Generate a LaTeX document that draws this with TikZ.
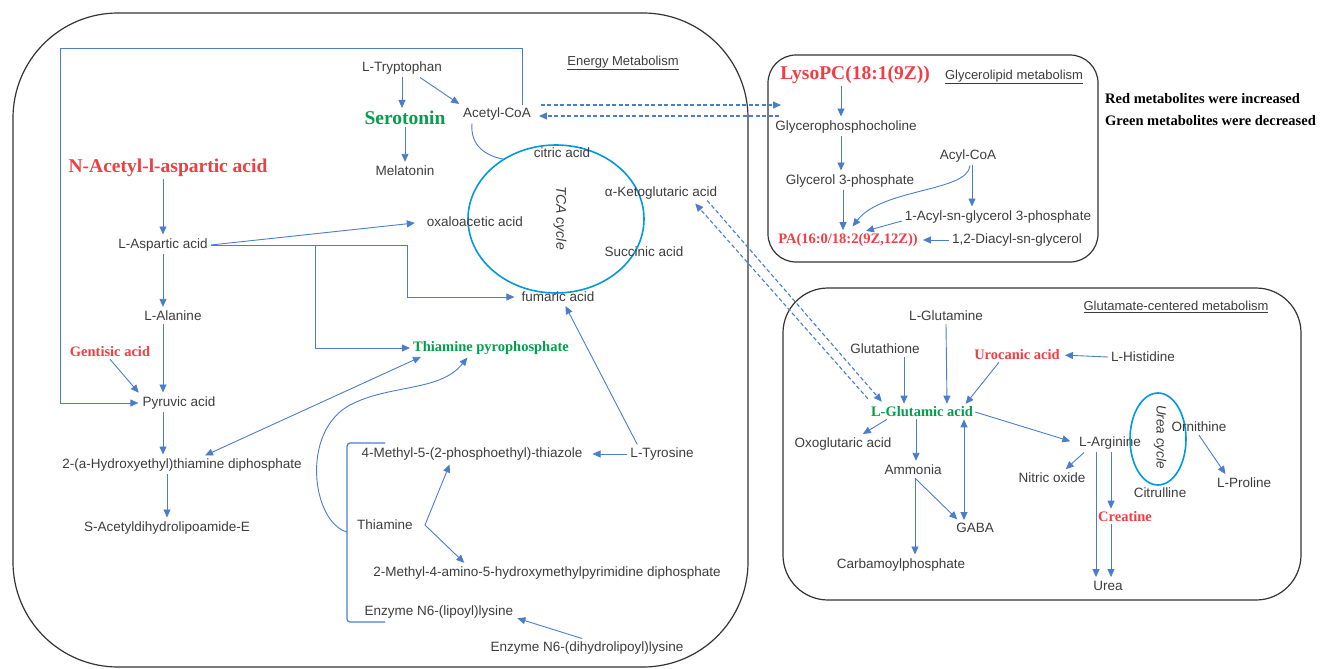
\documentclass[tikz,border=0pt]{standalone}
\usepackage{fontspec}
\setmainfont{Liberation Sans}
\newfontfamily\tnr{Liberation Serif}
\usetikzlibrary{arrows.meta,shapes.geometric}
\definecolor{incred}{RGB}{240,62,66}
\definecolor{decgreen}{RGB}{0,160,75}
\definecolor{lnblue}{RGB}{74,126,204}
\definecolor{cycblue}{RGB}{0,152,222}
\definecolor{txtgray}{RGB}{60,60,60}

\begin{document}
\begin{tikzpicture}[>={Triangle[length=8pt,width=7pt]},x=1pt,y=-1pt,
	txt/.style={font=\fontsize{13.5}{16}\selectfont,text=txtgray,inner sep=3pt},
	head/.style={font=\fontsize{13}{15}\selectfont,text=txtgray,inner sep=2pt},
	incbig/.style={font=\tnr\bfseries\fontsize{19.5}{22}\selectfont,text=incred,inner sep=2pt},
	decbig/.style={font=\tnr\bfseries\fontsize{19.5}{22}\selectfont,text=decgreen,inner sep=2pt},
	inc/.style={font=\tnr\bfseries\fontsize{14.5}{17}\selectfont,text=incred,inner sep=2pt},
	dec/.style={font=\tnr\bfseries\fontsize{14.5}{17}\selectfont,text=decgreen,inner sep=2pt},
	leg/.style={font=\tnr\bfseries\fontsize{14.5}{17}\selectfont,anchor=west,inner sep=0pt},
	cyc/.style={ellipse,draw=cycblue,line width=1.6pt,inner sep=0pt,outer sep=0pt},
	cyclbl/.style={font=\itshape\fontsize{14}{16}\selectfont,text=txtgray,rotate=-90},
	frame/.style={draw=black!80,line width=1.2pt},
	ln/.style={draw=lnblue,line width=0.9pt},
	arr/.style={->,draw=lnblue,line width=0.9pt,shorten >=1pt},
	dbl/.style={<->,draw=lnblue,line width=0.9pt},
	dsh/.style={->,draw=lnblue,line width=1.1pt,dash pattern=on 4pt off 2.5pt},
	brk/.style={draw=lnblue,line width=1.2pt,rounded corners=3pt}]
	  \useasboundingbox (0,0) rectangle (1328,669);
	  \draw[frame,rounded corners=105pt] (13,13) rectangle (748,667);
	  \draw[frame,rounded corners=28pt] (768,55) rectangle (1098,262);
	  \draw[frame,rounded corners=45pt] (783,288) rectangle (1301,600);

	  \node[head] (energy) at (623,63) {\underline{Energy Metabolism}};
	  \node[txt] (trp) at (402,68) {L-Tryptophan};
	  \node[decbig] (sero) at (405,118) {Serotonin};
	  \node[txt] (mela) at (405,171) {Melatonin};
	  \node[txt] (acoa) at (497,114) {Acetyl-CoA};
	  \node[incbig] (naa) at (168,168) {N-Acetyl-l-aspartic acid};
	  \node[txt] (asp) at (163,245) {L-Aspartic acid};
	  \node[cyc,minimum width=176pt,minimum height=148pt] (tca) at (556,219) {};
	  \node[cyclbl] (tcalbl) at (560,218) {TCA cycle};
	  \node[txt] (cit) at (562,153) {citric acid};
	  \node[txt] (oxa) at (475,222) {oxaloacetic acid};
	  \node[txt] (akg) at (661,193) {α-Ketoglutaric acid};
	  \node[txt] (suc) at (644,252) {Succinic acid};
	  \node[txt] (fum) at (558,297) {fumaric acid};
	  \node[txt] (ala) at (173,316) {L-Alanine};
	  \node[inc] (gen) at (110,352) {Gentisic acid};
	  \node[txt] (pyr) at (179,403) {Pyruvic acid};
	  \node[txt] (het) at (182,465) {2-(a-Hydroxyethyl)thiamine diphosphate};
	  \node[txt] (sac) at (167,528) {S-Acetyldihydrolipoamide-E};
	  \node[dec] (tpp) at (491,348) {Thiamine pyrophosphate};
	  \node[txt] (mpt) at (472,454) {4-Methyl-5-(2-phosphoethyl)-thiazole};
	  \node[txt] (tyr) at (662,454) {L-Tyrosine};
	  \node[txt] (thi) at (385,525) {Thiamine};
	  \node[txt] (hmp) at (547,573) {2-Methyl-4-amino-5-hydroxymethylpyrimidine diphosphate};
	  \node[txt] (lip) at (439,612) {Enzyme N6-(lipoyl)lysine};
	  \node[txt] (dhl) at (587,648) {Enzyme N6-(dihydrolipoyl)lysine};

	  \node[incbig] (lyso) at (855,75) {LysoPC(18:1(9Z))};
	  \node[head] (glhead) at (1014,77) {\underline{Glycerolipid metabolism}};
	  \node[txt] (gpc) at (846,127) {Glycerophosphocholine};
	  \node[txt] (acyl) at (968,156) {Acyl-CoA};
	  \node[txt] (g3p) at (850,181) {Glycerol 3-phosphate};
	  \node[txt] (ag3p) at (998,217) {1-Acyl-sn-glycerol 3-phosphate};
	  \node[inc] (pa) at (848,240) {PA(16:0/18:2(9Z,12Z))};
	  \node[txt] (dag) at (1017,240) {1,2-Diacyl-sn-glycerol};
	  \node[leg] (leg1) at (1105,99) {Red metabolites were increased};
	  \node[leg] (leg2) at (1105,121) {Green metabolites were decreased};

	  \node[head] (gchead) at (1176,307) {\underline{Glutamate-centered metabolism}};
	  \node[txt] (gln) at (946,316) {L-Glutamine};
	  \node[txt] (gsh) at (885,349) {Glutathione};
	  \node[inc] (uro) at (1017,355) {Urocanic acid};
	  \node[txt] (his) at (1143,357) {L-Histidine};
	  \node[dec] (glu) at (922,412) {L-Glutamic acid};
	  \node[txt] (oxo) at (843,444) {Oxoglutaric acid};
	  \node[txt] (arg) at (1110,443) {L-Arginine};
	  \node[cyc,minimum width=56pt,minimum height=92pt] (ucyc) at (1158,439) {};
	  \node[cyclbl,font=\itshape\fontsize{13.5}{16}\selectfont] (ucyclbl) at (1160,437) {Urea cycle};
	  \node[txt] (orn) at (1199,427) {Ornithine};
	  \node[txt] (amm) at (913,470) {Ammonia};
	  \node[txt] (no) at (1052,478) {Nitric oxide};
	  \node[txt] (citr) at (1160,493) {Citrulline};
	  \node[txt] (pro) at (1244,483) {L-Proline};
	  \node[txt] (gaba) at (975,528) {GABA};
	  \node[inc] (cre) at (1125,517) {Creatine};
	  \node[txt] (carb) at (901,565) {Carbamoylphosphate};
	  \node[txt] (urea) at (1108,586) {Urea};

	  \coordinate (frmc) at (60,48);
	  \coordinate (brkm) at (347,532);
	  \coordinate (gl1) at (781,105);
	  \coordinate (gl2) at (779,116);

	  \draw[arr] (trp.south) -- (trp.south |- sero.north);
	  \draw[arr] ([xshift=18pt]trp.south) -- (acoa.north west);
	  \draw[arr] (sero.south) -- (mela.north);
	  \draw[ln] ([xshift=-25pt]acoa.south) .. controls (470,145) and (485,156) .. (tca.131);
	  \draw[arr] ([xshift=25pt]acoa.north) |- (frmc) |- (pyr.west);
	  \draw[arr] (naa.south -| asp.north) -- (asp.north);
	  \draw[arr,shorten >=9pt] (asp.east) -- (oxa.west);
	  \draw[arr,shorten >=4pt] (asp.east) -- ++(197,0) |- (fum.west);
	  \draw[arr] ([xshift=105pt]asp.east) |- (tpp.west);
	  \draw[arr] (asp.south) -- (asp.south |- ala.north);
	  \draw[arr] ([xshift=-10pt]ala.south) -- ([xshift=-16pt]pyr.north);
	  \draw[arr] (gen.south) -- (pyr.north west);
	  \draw[arr] ([xshift=-16pt]pyr.south) -- ([xshift=-19pt]het.north);
	  \draw[arr] (het.south -| sac.north) -- (sac.north);
	  \draw[dbl] ([xshift=23pt]het.north) -- ([xshift=10pt]tpp.south west);
	  \draw[brk] (385,443) -- (347,443) -- (347,622) -- (385,622);
	  \draw[arr] (brkm) .. controls (312,522) and (300,432) .. (350,405) .. controls (390,384) and (440,392) .. ([xshift=-23pt]tpp.south);
	  \draw[arr] ([xshift=10pt]tyr.north west) -- ([xshift=7pt]fum.south);
	  \draw[arr,shorten >=7pt] (tyr.west) -- (mpt.east);
	  \draw[arr] ([xshift=9pt]thi.east) -- ([xshift=-22pt]mpt.south);
	  \draw[arr] ([xshift=9pt]thi.east) -- ([xshift=-82pt]hmp.north);
	  \draw[arr] ([xshift=-5pt]dhl.north) -- ([yshift=-6pt]lip.east);

	  \draw[dsh] ([xshift=7pt,yshift=9pt]acoa.east) -- (gl1);
	  \draw[dsh] (gl2) -- ([xshift=5pt,yshift=-2pt]acoa.east);
	  \draw[dsh] ([xshift=-13pt,yshift=2pt]akg.south east) -- ([xshift=13pt,yshift=3pt]glu.north west);
	  \draw[dsh] ([xshift=-1pt,yshift=6pt]glu.north west) -- ([xshift=-25pt,yshift=-1pt]akg.south east);

	  \draw[arr] ([xshift=-14pt]lyso.south) -- ([xshift=-5pt]gpc.north);
	  \draw[arr] ([xshift=-5pt]gpc.south) -- ([xshift=-9pt]g3p.north);
	  \draw[arr] ([xshift=-7pt]g3p.south) -- ([xshift=-5pt]pa.north);
	  \draw[arr] ([xshift=2pt]acyl.south) .. controls (968,192) and (882,188) .. ([xshift=4pt,yshift=4pt]pa.north);
	  \draw[arr] ([xshift=4pt]acyl.south) -- ([xshift=-26pt]ag3p.north);
	  \draw[arr] ([yshift=-4pt]ag3p.west) -- ([xshift=17pt]pa.north);
	  \draw[arr,shorten >=3pt] (dag.west) -- (pa.east);

	  \draw[arr] ([xshift=19pt]gsh.south) -- ([xshift=-18pt]glu.north);
	  \draw[arr] (gln.south) -- ([xshift=25pt]glu.north);
	  \draw[arr] ([xshift=-18pt]uro.south) -- ([xshift=43pt]glu.north);
	  \draw[arr,shorten >=3pt] (his.west) -- (uro.east);
	  \draw[arr] ([xshift=-35pt]glu.south) -- ([xshift=19pt]oxo.north);
	  \draw[arr] ([xshift=-6pt]glu.south) -- ([xshift=3pt]amm.north);
	  \draw[dbl] ([xshift=42pt]glu.south) -- ([xshift=-11pt]gaba.north);
	  \draw[arr,shorten >=6pt] (glu.east) -- (arg.west);
	  \draw[arr] ([xshift=-26pt]arg.south) -- ([xshift=13pt]no.north);
	  \draw[arr] ([xshift=-14pt]arg.south) -- ([xshift=-12pt]urea.north);
	  \draw[arr] ([xshift=1pt]arg.south) -- ([xshift=-14pt]cre.north);
	  \draw[arr] ([xshift=-14pt]cre.south) -- ([xshift=3pt]urea.north);
	  \draw[arr] (orn.south) -- ([xshift=-18pt]pro.north);
	  \draw[arr] ([xshift=2pt]amm.south) -- ([xshift=-17pt]gaba.north);
	  \draw[arr] ([xshift=2pt]amm.south) -- ([xshift=14pt]carb.north);
	\end{tikzpicture}
\end{document}
